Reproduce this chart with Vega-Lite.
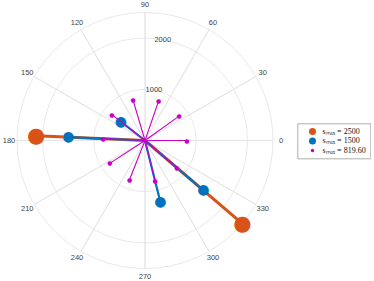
{
  "$schema": "https://vega.github.io/schema/vega-lite/v6.json",
  "width": 290,
  "height": 281,
  "padding": 0,
  "autosize": {"type": "pad"},
  "background": "white",
  "config": {
    "view": {"stroke": null},
    "legend": {
      "orient": "none",
      "legendX": 297.5,
      "legendY": 123.5,
      "title": null,
      "strokeColor": "#999999",
      "strokeWidth": 0.8,
      "fillColor": "white",
      "padding": 4,
      "symbolOffset": 7,
      "symbolType": "circle",
      "symbolSize": 49,
      "symbolStrokeWidth": 0,
      "labelFont": "Liberation Serif",
      "labelFontSize": 8,
      "labelColor": "#111111",
      "labelOffset": 6,
      "rowPadding": 1.5,
      "labelLimit": 200
    }
  },
  "datasets": {
    "grid": [
      {"a": 0}, {"a": 30}, {"a": 60}, {"a": 90}, {"a": 120}, {"a": 150},
      {"a": 180}, {"a": 210}, {"a": 240}, {"a": 270}, {"a": 300}, {"a": 330}
    ],
    "rings": [{"r": 1000}, {"r": 2000}, {"r": 2500}],
    "rlab": [{"r": 1000}, {"r": 2000}],
    "pts": [
      {"s": "sₘₐₓ = 2500", "a": 177.5, "r": 2130},
      {"s": "sₘₐₓ = 2500", "a": 319.5, "r": 2500},
      {"s": "sₘₐₓ = 1500", "a": 142, "r": 600},
      {"s": "sₘₐₓ = 1500", "a": 177.5, "r": 1500},
      {"s": "sₘₐₓ = 1500", "a": 284, "r": 1245},
      {"s": "sₘₐₓ = 1500", "a": 319.5, "r": 1500},
      {"s": "sₘₐₓ = 819.60", "a": 0, "r": 819.6},
      {"s": "sₘₐₓ = 819.60", "a": 35.5, "r": 819.6},
      {"s": "sₘₐₓ = 819.60", "a": 71, "r": 819.6},
      {"s": "sₘₐₓ = 819.60", "a": 106.5, "r": 819.6},
      {"s": "sₘₐₓ = 819.60", "a": 142, "r": 819.6},
      {"s": "sₘₐₓ = 819.60", "a": 177.5, "r": 819.6},
      {"s": "sₘₐₓ = 819.60", "a": 213, "r": 819.6},
      {"s": "sₘₐₓ = 819.60", "a": 248.5, "r": 819.6},
      {"s": "sₘₐₓ = 819.60", "a": 284, "r": 819.6},
      {"s": "sₘₐₓ = 819.60", "a": 319.5, "r": 819.6}
    ]
  },
  "layer": [
    {
      "data": {"name": "rings"},
      "mark": {"type": "arc", "filled": false, "stroke": "#e2e2e2", "strokeWidth": 0.8},
      "encoding": {
        "theta": {"value": 0},
        "theta2": {"value": 6.28319},
        "radius": {"field": "r", "type": "quantitative", "stack": null, "scale": {"type": "linear", "domain": [0, 2500], "range": [0, 128], "zero": true}}
      }
    },
    {
      "data": {"name": "grid"},
      "mark": {"type": "arc", "filled": false, "stroke": "#e2e2e2", "strokeWidth": 0.8},
      "encoding": {
        "theta": {"field": "a", "type": "quantitative", "stack": null, "scale": {"domain": [0, 360], "range": [1.5707963, -4.712389]}},
        "theta2": {"field": "a"},
        "radius": {"datum": 2500, "type": "quantitative", "scale": {"type": "linear", "domain": [0, 2500], "range": [0, 128], "zero": true}}
      }
    },
    {
      "data": {"name": "grid"},
      "mark": {"type": "text", "font": "Liberation Sans", "fontSize": 7.5, "color": "#444444", "align": "center", "baseline": "middle", "radius": 136},
      "encoding": {
        "theta": {"field": "a", "type": "quantitative", "stack": null, "scale": {"domain": [0, 360], "range": [1.5707963, -4.712389]}},
        "text": {"field": "a", "type": "quantitative", "format": "d"}
      }
    },
    {
      "data": {"name": "rlab"},
      "mark": {"type": "text", "font": "Liberation Sans", "fontSize": 7.5, "color": "#444444", "align": "center", "baseline": "middle"},
      "encoding": {
        "theta": {"datum": 80, "type": "quantitative", "stack": null, "scale": {"domain": [0, 360], "range": [1.5707963, -4.712389]}},
        "radius": {"field": "r", "type": "quantitative", "stack": null, "scale": {"type": "linear", "domain": [0, 2500], "range": [0, 128], "zero": true}},
        "text": {"field": "r", "type": "quantitative", "format": "d"}
      }
    },
    {
      "data": {"name": "pts"},
      "transform": [{"filter": "datum.s === 'sₘₐₓ = 2500'"}],
      "mark": {"type": "arc", "filled": false, "stroke": "#D95319", "strokeWidth": 3},
      "encoding": {
        "theta": {"field": "a", "type": "quantitative", "stack": null, "scale": {"domain": [0, 360], "range": [1.5707963, -4.712389]}},
        "theta2": {"field": "a"},
        "radius": {"field": "r", "type": "quantitative", "stack": null, "scale": {"type": "linear", "domain": [0, 2500], "range": [0, 128], "zero": true}}
      }
    },
    {
      "data": {"name": "pts"},
      "transform": [{"filter": "datum.s === 'sₘₐₓ = 2500'"}],
      "mark": {"type": "text", "text": "●", "font": "DejaVu Sans", "fontSize": 21, "align": "center", "baseline": "middle"},
      "encoding": {
        "theta": {"field": "a", "type": "quantitative", "stack": null, "scale": {"domain": [0, 360], "range": [1.5707963, -4.712389]}},
        "radius": {"field": "r", "type": "quantitative", "stack": null, "scale": {"type": "linear", "domain": [0, 2500], "range": [0, 128], "zero": true}},
        "color": {"field": "s", "type": "nominal", "scale": {"domain": ["sₘₐₓ = 2500", "sₘₐₓ = 1500", "sₘₐₓ = 819.60"], "range": ["#D95319", "#0072BD", "#C800C8"]},
          "legend": {"encode": {"symbols": {"update": {"size": {"signal": "datum.value === 'sₘₐₓ = 819.60' ? 12 : 49"}}}}}}
      }
    },
    {
      "data": {"name": "pts"},
      "transform": [{"filter": "datum.s === 'sₘₐₓ = 1500'"}],
      "mark": {"type": "arc", "filled": false, "stroke": "#0072BD", "strokeWidth": 2.2},
      "encoding": {
        "theta": {"field": "a", "type": "quantitative", "stack": null, "scale": {"domain": [0, 360], "range": [1.5707963, -4.712389]}},
        "theta2": {"field": "a"},
        "radius": {"field": "r", "type": "quantitative", "stack": null, "scale": {"type": "linear", "domain": [0, 2500], "range": [0, 128], "zero": true}}
      }
    },
    {
      "data": {"name": "pts"},
      "transform": [{"filter": "datum.s === 'sₘₐₓ = 1500'"}],
      "mark": {"type": "text", "text": "●", "font": "DejaVu Sans", "fontSize": 14, "align": "center", "baseline": "middle"},
      "encoding": {
        "theta": {"field": "a", "type": "quantitative", "stack": null, "scale": {"domain": [0, 360], "range": [1.5707963, -4.712389]}},
        "radius": {"field": "r", "type": "quantitative", "stack": null, "scale": {"type": "linear", "domain": [0, 2500], "range": [0, 128], "zero": true}},
        "color": {"field": "s", "type": "nominal", "scale": {"domain": ["sₘₐₓ = 2500", "sₘₐₓ = 1500", "sₘₐₓ = 819.60"], "range": ["#D95319", "#0072BD", "#C800C8"]}}
      }
    },
    {
      "data": {"name": "pts"},
      "transform": [{"filter": "datum.s === 'sₘₐₓ = 819.60'"}],
      "mark": {"type": "arc", "filled": false, "stroke": "#C800C8", "strokeWidth": 1.1},
      "encoding": {
        "theta": {"field": "a", "type": "quantitative", "stack": null, "scale": {"domain": [0, 360], "range": [1.5707963, -4.712389]}},
        "theta2": {"field": "a"},
        "radius": {"field": "r", "type": "quantitative", "stack": null, "scale": {"type": "linear", "domain": [0, 2500], "range": [0, 128], "zero": true}}
      }
    },
    {
      "data": {"name": "pts"},
      "transform": [{"filter": "datum.s === 'sₘₐₓ = 819.60'"}],
      "mark": {"type": "text", "text": "●", "font": "DejaVu Sans", "fontSize": 6, "align": "center", "baseline": "middle"},
      "encoding": {
        "theta": {"field": "a", "type": "quantitative", "stack": null, "scale": {"domain": [0, 360], "range": [1.5707963, -4.712389]}},
        "radius": {"field": "r", "type": "quantitative", "stack": null, "scale": {"type": "linear", "domain": [0, 2500], "range": [0, 128], "zero": true}},
        "color": {"field": "s", "type": "nominal", "scale": {"domain": ["sₘₐₓ = 2500", "sₘₐₓ = 1500", "sₘₐₓ = 819.60"], "range": ["#D95319", "#0072BD", "#C800C8"]}}
      }
    }
  ]
}
